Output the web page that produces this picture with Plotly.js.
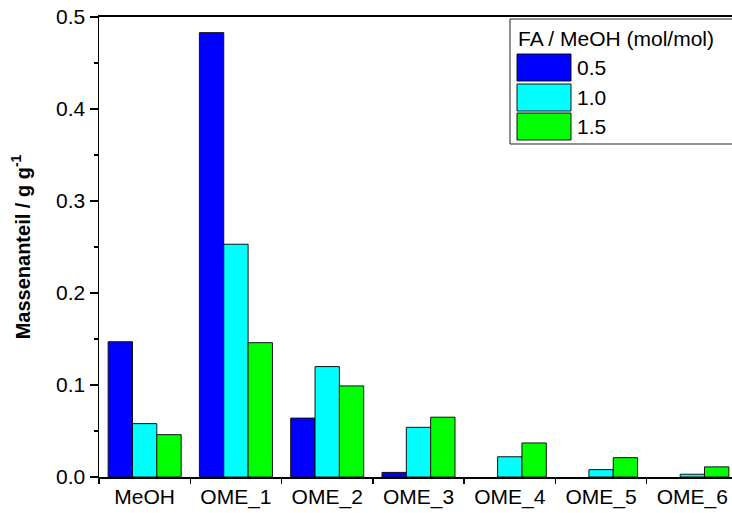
<!DOCTYPE html>
<html>
<head>
<meta charset="utf-8">
<script src="https://cdn.plot.ly/plotly-3.0.1.min.js"></script>
<style>
html,body{margin:0;padding:0;overflow:hidden;background:#fff;}
#chart{width:745px;height:513px;}
</style>
</head>
<body>
<div id="chart"></div>
<script>
const categories = ["MeOH", "OME_1", "OME_2", "OME_3", "OME_4", "OME_5", "OME_6"];
const seriesNames = ["0.5", "1.0", "1.5"];
const values05 = [0.147, 0.483, 0.064, 0.005, null, null, null];
const values10 = [0.058, 0.253, 0.120, 0.054, 0.022, 0.008, 0.003];
const values15 = [0.046, 0.146, 0.099, 0.065, 0.037, 0.021, 0.011];
const colors = ["#0000FF", "#00FFFF", "#00FF00"];
const legendTitle = "FA / MeOH (mol/mol)";
const yTitle = "Massenanteil / g g<sup>-1</sup>";

const FONT = "Liberation Sans, Arial, sans-serif";
const FS = 21;
const W = 745, H = 513;
const M = {l: 99, r: 7, t: 17, b: 36};
const pw = W - M.l - M.r, ph = H - M.t - M.b;
const px = x => (x - M.l) / pw;
const py = y => (H - M.b - y) / ph;

const allValues = [values05, values10, values15];
const traces = allValues.map((v, i) => ({
  type: "bar",
  name: seriesNames[i],
  x: categories,
  y: v,
  marker: {color: colors[i], line: {color: "#111", width: 1}},
  showlegend: false,
  hoverinfo: "x+y+name"
}));

// custom legend (large swatches like the reference)
const shapes = [{
  type: "rect", xref: "paper", yref: "paper",
  x0: px(510), x1: px(760), y0: py(144), y1: py(19),
  line: {color: "#222", width: 1}, fillcolor: "rgba(255,255,255,1)", layer: "above"
}];
const annotations = [{
  xref: "paper", yref: "paper", x: px(516), y: py(39), xanchor: "left", yanchor: "middle",
  text: legendTitle, showarrow: false, font: {family: FONT, size: FS, color: "#000"}
}];
const swTop = [54, 84, 113];
seriesNames.forEach((n, i) => {
  shapes.push({
    type: "rect", xref: "paper", yref: "paper",
    x0: px(517), x1: px(571), y0: py(swTop[i] + 27), y1: py(swTop[i]),
    line: {color: "#111", width: 1}, fillcolor: colors[i], layer: "above"
  });
  annotations.push({
    xref: "paper", yref: "paper", x: px(575), y: py(swTop[i] + 13.5),
    xanchor: "left", yanchor: "middle", text: n, showarrow: false,
    font: {family: FONT, size: FS, color: "#000"}
  });
});

const layout = {
  width: W, height: H,
  margin: M,
  paper_bgcolor: "#fff", plot_bgcolor: "#fff",
  font: {family: FONT, size: FS, color: "#000"},
  barmode: "group", bargap: 0.2, bargroupgap: 0,
  xaxis: {
    type: "category", range: [-0.5, 6.5],
    showline: true, linecolor: "#000", linewidth: 2, mirror: true,
    ticks: "outside", tickson: "boundaries", ticklen: 5, tickwidth: 1.5, tickcolor: "#000",
    showgrid: false, zeroline: false,
    tickfont: {family: FONT, size: FS, color: "#000"}
  },
  yaxis: {
    range: [0, 0.5], dtick: 0.1, tickformat: ".1f",
    showline: true, linecolor: "#000", linewidth: 1.5, mirror: true,
    ticks: "outside", ticklen: 8, tickwidth: 1.5, tickcolor: "#000",
    minor: {dtick: 0.05, ticks: "outside", ticklen: 4, tickwidth: 1.5, tickcolor: "#000", showgrid: false},
    showgrid: false, zeroline: false,
    tickfont: {family: FONT, size: FS, color: "#000"},
    title: {text: yTitle, standoff: 20, font: {family: FONT, size: 20, color: "#000", weight: "bold"}}
  },
  shapes: shapes,
  annotations: annotations
};

Plotly.newPlot("chart", traces, layout, {displayModeBar: false, staticPlot: true});
</script>
</body>
</html>
